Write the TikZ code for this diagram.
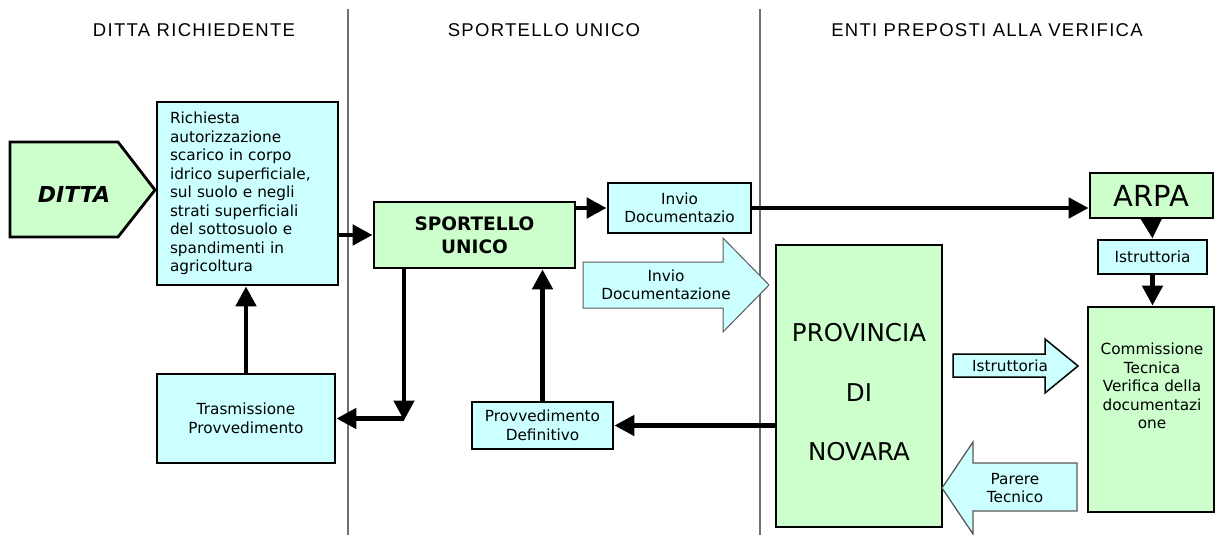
\documentclass[tikz,border=0pt]{standalone}
\usepackage{fontspec}
\setmainfont{DejaVu Sans}
\newfontfamily\hdrfont[LetterSpace=7]{Liberation Sans}
\usetikzlibrary{arrows.meta,calc}
\definecolor{lgreen}{HTML}{CCFFCC}
\definecolor{lcyan}{HTML}{CCFFFF}
\definecolor{sepgray}{HTML}{707070}
\begin{document}
\begin{tikzpicture}[x=1pt,y=-1pt,
  hdr/.style={font=\hdrfont\fontsize{18.5}{20}\selectfont, inner sep=0pt},
  gbox/.style={draw=black, line width=2.8pt, fill=lgreen, inner sep=0pt, align=center},
  cbox/.style={draw=black, line width=2.8pt, fill=lcyan, inner sep=0pt, align=center, font=\fontsize{15.3}{18.5}\selectfont},
  txt/.style={inner sep=0pt, align=center, font=\fontsize{15.3}{18.5}\selectfont},
  arr/.style={line width=4.8pt, -{Triangle[length=20pt,width=20pt]}},
  sep/.style={draw=sepgray, line width=1.3pt},
  blockarrow/.style={fill=lcyan, draw=gray!70!black, line width=1pt, line join=miter}
]
\useasboundingbox[fill=white] (0,0) rectangle (1216,535);

% lane separators
\coordinate (s1t) at (348,9);
\coordinate (s1b) at (348,535);
\coordinate (s2t) at (760,9);
\coordinate (s2b) at (760,535);
\draw[sep] (s1t) -- (s1b);
\draw[sep] (s2t) -- (s2b);

% headers
\node[hdr] (h1) at (194,30) {DITTA RICHIEDENTE};
\node[hdr] (h2) at (544,30) {SPORTELLO UNICO};
\node[hdr] (h3) at (987,30) {ENTI PREPOSTI ALLA VERIFICA};

% DITTA pentagon
\draw[line width=2.8pt, fill=lgreen, line join=miter] (10,142) -- (118,142) -- (155,190) -- (118,237) -- (10,237) -- cycle;
\node[inner sep=0pt, font=\fontsize{22}{24}\selectfont\bfseries\itshape] (ditta) at (74,194) {DITTA};

% boxes
\node[cbox, minimum width=181pt, minimum height=183pt, text width=155pt, align=left] (rich) at (247.5,193.5)
  {Richiesta\\autorizzazione\\scarico in corpo\\idrico superficiale,\\sul suolo e negli\\strati superficiali\\del sottosuolo e\\spandimenti in\\agricoltura};
\node[gbox, minimum width=201pt, minimum height=66pt, font=\fontsize{18.5}{23}\selectfont\bfseries] (sport) at (474.5,235) {SPORTELLO\\UNICO};
\node[cbox, minimum width=143pt, minimum height=50pt] (invio) at (679.5,208) {Invio\\Documentazio};
\node[gbox, minimum width=123pt, minimum height=45pt, font=\fontsize{29}{30}\selectfont] (arpa) at (1151.5,195.5) {ARPA};
\node[cbox, minimum width=109pt, minimum height=34pt] (istr) at (1152.5,257) {Istruttoria};
\node[gbox, minimum width=126pt, minimum height=205pt] (comm) at (1151,409.5) {};
\node[txt] (commtxt) at (1152,386) {Commissione\\Tecnica\\Verifica della\\documentazi\\one};
\node[gbox, minimum width=166pt, minimum height=282pt] (prov) at (859,386) {};
\node[inner sep=0pt, align=center, font=\fontsize{24.5}{59.5}\selectfont] (provtxt) at (859,392.5) {PROVINCIA\\DI\\NOVARA};
\node[cbox, minimum width=141pt, minimum height=47pt] (provv) at (542.5,425.5) {Provvedimento\\Definitivo};
\node[cbox, minimum width=178pt, minimum height=89pt] (trasm) at (246,418.5) {Trasmissione\\Provvedimento};

% block arrows
\draw[blockarrow] (583,262) -- (723,262) -- (723,238) -- (769,285) -- (723,332) -- (723,308) -- (583,308) -- cycle;
\node[txt] (invdoc) at (666,285) {Invio\\Documentazione};
\draw[blockarrow, draw=black, line width=1.5pt] (953,354) -- (1045,354) -- (1045,339) -- (1078,366) -- (1045,393) -- (1045,377) -- (953,377) -- cycle;
\node[txt] (istr2) at (1010,366) {Istruttoria};
\draw[blockarrow, line width=1.3pt] (1077,463) -- (973,463) -- (973,442) -- (942,488) -- (973,534) -- (973,511) -- (1077,511) -- cycle;
\node[txt] (parere) at (1015,488) {Parere\\Tecnico};

% connectors
\draw[arr] (rich.east |- sport.west) -- (sport.west);
\draw[arr] (sport.east |- invio.west) -- (invio.west);
\draw[arr] (invio.east) -- (invio.east -| arpa.west);
\draw[arr] (arpa.south) -- (istr.north);
\draw[arr] (istr.south) -- (istr.south |- comm.north);
\draw[arr] (prov.west |- provv.east) -- (provv.east);
\draw[arr] (provv.north) -- (provv.north |- sport.south);
\coordinate (corner) at (404,418.5);
\draw[arr] (sport.south -| corner) -- ($(corner)+(0,2)$);
\draw[arr] (corner) -- (trasm.east);
\draw[arr] (trasm.north) -- (trasm.north |- rich.south);
\end{tikzpicture}
\end{document}
